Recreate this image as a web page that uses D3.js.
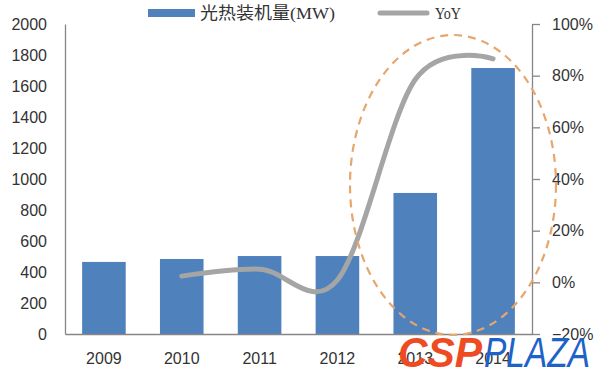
<!DOCTYPE html>
<html>
<head>
<meta charset="utf-8">
<style>
    body { margin: 0; background: #fff; }
    svg { display: block; font-family: Lato, "Open Sans", sans-serif; }
    .axis text { font-size: 16px; fill: #333; }
    .axis path, .axis line { stroke: #868686; stroke-width: 1.3; }
</style>
</head>
<body>
<svg width="600" height="371"></svg>

<script src="https://d3js.org/d3.v7.min.js"></script>
<script>
    // values
    let years = ["2009", "2010", "2011", "2012", "2013", "2014"];
    let capacity = [465, 484, 503, 503, 910, 1716];           // 光热装机量 (MW)
    let yoyYears = ["2010", "2011", "2012", "2013", "2014"];
    let yoy = [0.024, 0.051, 0.009, 0.785, 0.865];             // YoY
    let leftTicks = [0, 200, 400, 600, 800, 1000, 1200, 1400, 1600, 1800, 2000];
    let rightTicks = [-0.2, 0, 0.2, 0.4, 0.6, 0.8, 1.0];

    let plotLeft = 65, plotRight = 532, plotTop = 24, plotBottom = 334;

    let svg = d3.select("svg");

    let x = d3.scaleBand()
        .domain(years)
        .range([plotLeft, plotRight])
        .paddingInner(0.44)
        .paddingOuter(0.22);

    let y = d3.scaleLinear().domain([0, 2000]).range([plotBottom, plotTop]);
    let y2 = d3.scaleLinear().domain([-0.2, 1]).range([plotBottom, plotTop]);

    // bars
    svg.append("g")
        .selectAll("rect")
        .data(capacity)
        .join("rect")
        .attr("x", (d, i) => x(years[i]))
        .attr("y", d => y(d))
        .attr("width", x.bandwidth())
        .attr("height", d => plotBottom - y(d))
        .style("fill", "#4f81bd");

    // axes
    svg.append("g")
        .attr("class", "axis")
        .attr("transform", `translate(${plotLeft},0)`)
        .call(d3.axisLeft(y).tickValues(leftTicks).tickSize(0).tickPadding(18)
            .tickFormat(d3.format("d")));

    svg.append("g")
        .attr("class", "axis")
        .attr("transform", `translate(${plotRight},0)`)
        .call(d3.axisRight(y2).tickValues(rightTicks).tickSize(8).tickSizeOuter(0).tickPadding(12)
            .tickFormat(d3.format(".0%")));

    svg.append("g")
        .attr("class", "axis")
        .attr("transform", `translate(0,${plotBottom})`)
        .call(d3.axisBottom(x).tickSize(0).tickPadding(19));

    // YoY smoothed line
    let line = d3.line()
        .x((d, i) => x(yoyYears[i]) + x.bandwidth() / 2)
        .y(d => y2(d))
        .curve(d3.curveCardinal.tension(0));

    svg.append("path")
        .attr("d", line(yoy))
        .style("fill", "none")
        .style("stroke", "#a5a5a5")
        .style("stroke-width", 5)
        .style("stroke-linecap", "round");

    // dashed highlight ellipse
    svg.append("ellipse")
        .attr("cx", 453)
        .attr("cy", 185)
        .attr("rx", 103)
        .attr("ry", 150)
        .style("fill", "none")
        .style("stroke", "#e6a66c")
        .style("stroke-width", 2.2)
        .style("stroke-dasharray", "8 6");

    // legend
    let legend = svg.append("g")
        .style("font-family", "'Liberation Serif', 'Noto Sans CJK SC', serif")
        .style("font-size", "17px")
        .style("fill", "#333");

    legend.append("rect")
        .attr("x", 148).attr("y", 9)
        .attr("width", 47).attr("height", 8)
        .style("fill", "#4f81bd");

    legend.append("text")
        .attr("x", 200).attr("y", 19)
        .attr("textLength", 135)
        .attr("lengthAdjust", "spacingAndGlyphs")
        .text("光热装机量(MW)");

    legend.append("line")
        .attr("x1", 380).attr("x2", 427)
        .attr("y1", 13).attr("y2", 13)
        .style("stroke", "#a5a5a5")
        .style("stroke-width", 5)
        .style("stroke-linecap", "round");

    legend.append("text")
        .attr("x", 435).attr("y", 19)
        .attr("textLength", 26)
        .attr("lengthAdjust", "spacingAndGlyphs")
        .text("YoY");

    // watermark
    let mark = svg.append("g")
        .style("font-family", "'Liberation Sans', Arial, sans-serif")
        .style("font-size", "42px")
        .style("font-style", "italic");

    mark.append("text")
        .attr("x", 398).attr("y", 367)
        .attr("textLength", 84)
        .attr("lengthAdjust", "spacingAndGlyphs")
        .style("font-weight", "bold")
        .style("fill", "#ee4b22")
        .text("CSP");

    mark.append("text")
        .attr("x", 484).attr("y", 367)
        .attr("textLength", 106)
        .attr("lengthAdjust", "spacingAndGlyphs")
        .style("font-weight", "normal")
        .style("fill", "#1e62c8")
        .text("PLAZA");
</script>
</body>
</html>
